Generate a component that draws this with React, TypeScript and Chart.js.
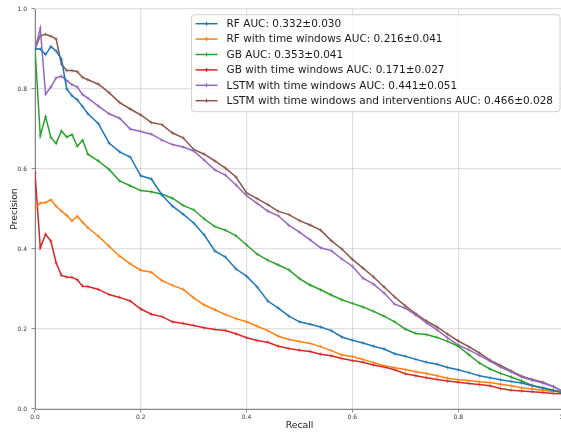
import React, { useEffect, useRef } from "react";
import { Chart, registerables } from "chart.js";

Chart.register(...registerables);

const recall = [0, 0.01, 0.02, 0.03, 0.04, 0.05, 0.06, 0.07, 0.08, 0.09, 0.1,
  0.12, 0.14, 0.16, 0.18, 0.2, 0.22, 0.24, 0.26, 0.28, 0.3,
  0.32, 0.34, 0.36, 0.38, 0.4, 0.42, 0.44, 0.46, 0.48, 0.5,
  0.52, 0.54, 0.56, 0.58, 0.6, 0.62, 0.64, 0.66, 0.68, 0.7,
  0.72, 0.74, 0.76, 0.78, 0.8, 0.82, 0.84, 0.86, 0.88, 0.9,
  0.92, 0.94, 0.96, 0.98, 1.0];

const rf = [0.9, 0.9, 0.886, 0.906, 0.895, 0.875, 0.8, 0.783, 0.773, 0.756, 0.738,
  0.713, 0.665, 0.643, 0.63, 0.583, 0.575, 0.535, 0.507, 0.487, 0.465,
  0.435, 0.395, 0.38, 0.35, 0.332, 0.305, 0.27, 0.252, 0.232, 0.218,
  0.212, 0.205, 0.196, 0.18, 0.172, 0.165, 0.157, 0.15, 0.138, 0.132,
  0.124, 0.117, 0.112, 0.104, 0.098, 0.091, 0.083, 0.078, 0.073, 0.069,
  0.065, 0.058, 0.052, 0.046, 0.04];

const rfTw = [0.5, 0.515, 0.516, 0.523, 0.507, 0.495, 0.484, 0.47, 0.482, 0.467, 0.453,
  0.432, 0.407, 0.382, 0.363, 0.347, 0.342, 0.321, 0.309, 0.299, 0.278,
  0.26, 0.248, 0.236, 0.226, 0.218, 0.207, 0.196, 0.182, 0.174, 0.169,
  0.164, 0.156, 0.146, 0.135, 0.131, 0.124, 0.116, 0.108, 0.103, 0.099,
  0.093, 0.089, 0.083, 0.077, 0.073, 0.071, 0.068, 0.066, 0.062, 0.058,
  0.053, 0.05, 0.047, 0.044, 0.042];

const gb = [0.9, 0.683, 0.731, 0.679, 0.664, 0.695, 0.68, 0.686, 0.657, 0.672, 0.637,
  0.62, 0.599, 0.57, 0.558, 0.546, 0.543, 0.537, 0.527, 0.509, 0.498,
  0.475, 0.456, 0.447, 0.433, 0.41, 0.387, 0.372, 0.36, 0.348, 0.326,
  0.31, 0.298, 0.285, 0.273, 0.264, 0.255, 0.244, 0.232, 0.218, 0.2,
  0.189, 0.186, 0.179, 0.169, 0.157, 0.136, 0.115, 0.1, 0.089, 0.08,
  0.07, 0.059, 0.053, 0.047, 0.042];

const gbTw = [0.59, 0.403, 0.437, 0.42, 0.365, 0.334, 0.33, 0.329, 0.323, 0.307, 0.306,
  0.299, 0.286, 0.279, 0.27, 0.25, 0.237, 0.231, 0.218, 0.214, 0.209,
  0.203, 0.199, 0.196, 0.188, 0.178, 0.171, 0.167, 0.157, 0.151, 0.147,
  0.144, 0.137, 0.133, 0.126, 0.121, 0.117, 0.11, 0.105, 0.098, 0.088,
  0.083, 0.078, 0.074, 0.07, 0.067, 0.064, 0.061, 0.058, 0.051, 0.047,
  0.045, 0.043, 0.041, 0.039, 0.038];

const lstmTw = [0.9, 0.952, 0.787, 0.805, 0.828, 0.832, 0.821, 0.811, 0.805, 0.786, 0.777,
  0.757, 0.738, 0.727, 0.7, 0.694, 0.687, 0.672, 0.661, 0.655, 0.645,
  0.622, 0.598, 0.585, 0.56, 0.533, 0.514, 0.495, 0.483, 0.459, 0.442,
  0.423, 0.403, 0.396, 0.375, 0.357, 0.327, 0.312, 0.29, 0.262, 0.252,
  0.235, 0.215, 0.198, 0.178, 0.16, 0.148, 0.134, 0.12, 0.105, 0.093,
  0.08, 0.072, 0.065, 0.056, 0.042];

const lstmTwInt = [0.9, 0.933, 0.937, 0.932, 0.925, 0.862, 0.846, 0.846, 0.843, 0.829, 0.823,
  0.812, 0.791, 0.766, 0.75, 0.735, 0.716, 0.711, 0.69, 0.678, 0.649,
  0.637, 0.62, 0.602, 0.58, 0.54, 0.526, 0.511, 0.494, 0.486, 0.471,
  0.46, 0.447, 0.421, 0.4, 0.374, 0.352, 0.33, 0.305, 0.28, 0.258,
  0.238, 0.22, 0.205, 0.187, 0.17, 0.156, 0.14, 0.122, 0.109, 0.095,
  0.082, 0.074, 0.067, 0.056, 0.042];

const seriesLabels = [
  "RF AUC: 0.332±0.030",
  "RF with time windows AUC: 0.216±0.041",
  "GB AUC: 0.353±0.041",
  "GB with time windows AUC: 0.171±0.027",
  "LSTM with time windows AUC: 0.441±0.051",
  "LSTM with time windows and interventions AUC: 0.466±0.028",
];
const seriesValues = [rf, rfTw, gb, gbTw, lstmTw, lstmTwInt];
const seriesColors = ["#1f77b4", "#ff7f0e", "#2ca02c", "#d62728", "#9467bd", "#8c564b"];

const xTitle = "Recall";
const yTitle = "Precision";
const FONT = '"DejaVu Sans", sans-serif';

const legendPlugin = {
  id: "mplLegend",
  afterDraw(chart: any) {
    const { ctx, chartArea } = chart;
    const fontSize = 10.5;
    ctx.save();
    ctx.font = `${fontSize}px ${FONT}`;
    const datasets = chart.data.datasets;
    let maxW = 0;
    datasets.forEach((ds: any) => {
      maxW = Math.max(maxW, ctx.measureText(ds.label).width);
    });
    const rowH = 15.4;
    const right = chartArea.right - 4;
    const top = chartArea.top + 5.7;
    const width = maxW + 35 + 7;
    const left = right - width;
    const height = 9 + rowH * (datasets.length - 1) + 11;
    const r = 3;
    ctx.beginPath();
    ctx.moveTo(left + r, top);
    ctx.lineTo(right - r, top);
    ctx.quadraticCurveTo(right, top, right, top + r);
    ctx.lineTo(right, top + height - r);
    ctx.quadraticCurveTo(right, top + height, right - r, top + height);
    ctx.lineTo(left + r, top + height);
    ctx.quadraticCurveTo(left, top + height, left, top + height - r);
    ctx.lineTo(left, top + r);
    ctx.quadraticCurveTo(left, top, left + r, top);
    ctx.closePath();
    ctx.fillStyle = "rgba(255,255,255,0.8)";
    ctx.fill();
    ctx.strokeStyle = "#d0d0d0";
    ctx.lineWidth = 1;
    ctx.stroke();
    datasets.forEach((ds: any, i: number) => {
      const y = top + 9 + i * rowH;
      ctx.strokeStyle = ds.borderColor;
      ctx.lineWidth = 1.5;
      ctx.beginPath();
      ctx.moveTo(left + 4, y);
      ctx.lineTo(left + 26, y);
      ctx.stroke();
      ctx.lineWidth = 1;
      ctx.beginPath();
      ctx.moveTo(left + 13, y);
      ctx.lineTo(left + 17, y);
      ctx.moveTo(left + 15, y - 2);
      ctx.lineTo(left + 15, y + 2);
      ctx.stroke();
      ctx.fillStyle = "#1a1a1a";
      ctx.textBaseline = "middle";
      ctx.textAlign = "left";
      ctx.fillText(ds.label, left + 35, y + 0.5);
    });
    ctx.restore();
  },
};

export default function App() {
  const canvasRef = useRef<HTMLCanvasElement | null>(null);

  useEffect(() => {
    document.body.style.margin = "0";
    const canvas = canvasRef.current;
    if (!canvas) return;
    const datasets = seriesValues.map((vals, i) => ({
      label: seriesLabels[i],
      data: recall.map((x, j) => ({ x, y: vals[j] })),
      borderColor: seriesColors[i],
      backgroundColor: seriesColors[i],
      borderWidth: 1.5,
      pointStyle: "cross" as const,
      pointRadius: 2,
      pointBorderWidth: 1,
      pointBorderColor: seriesColors[i] + "88",
      pointHoverRadius: 2,
      tension: 0,
      fill: false,
    }));
    const tickFont = { family: FONT, size: 6 };
    const titleFont = { family: FONT, size: 9.3 };
    const chart = new Chart(canvas, {
      type: "line",
      data: { datasets },
      options: {
        animation: false,
        responsive: false,
        maintainAspectRatio: false,
        events: [],
        layout: { padding: { left: 0, right: 6, top: 9, bottom: 0 } },
        plugins: { legend: { display: false }, tooltip: { enabled: false } },
        scales: {
          x: {
            type: "linear",
            min: 0,
            max: 1,
            ticks: {
              stepSize: 0.2,
              callback: (v: any) => Number(v).toFixed(1),
              font: tickFont,
              color: "#333",
              padding: 1,
              maxRotation: 0,
              autoSkip: false,
            },
            grid: { color: "rgba(0,0,0,0.12)", lineWidth: 1.2, tickLength: 3.5, tickColor: "#888", tickWidth: 1 },
            border: { color: "#888", width: 1 },
            title: { display: true, text: xTitle, font: titleFont, color: "#222", padding: { top: 0, bottom: 1 } },
            afterFit: (s: any) => {
              s.height = 23;
              s.paddingLeft = 0;
              s.paddingRight = 0;
            },
          },
          y: {
            type: "linear",
            min: 0,
            max: 1,
            ticks: {
              stepSize: 0.2,
              callback: (v: any) => Number(v).toFixed(1),
              font: tickFont,
              color: "#333",
              padding: 4.5,
            },
            grid: { color: "rgba(0,0,0,0.12)", lineWidth: 1.2, tickLength: 3.5, tickColor: "#888", tickWidth: 1 },
            border: { color: "#888", width: 1 },
            title: { display: true, text: yTitle, font: titleFont, color: "#222", padding: { top: 9, bottom: 0 } },
            afterFit: (s: any) => {
              s.width = 35;
              s.paddingTop = 0;
              s.paddingBottom = 0;
            },
          },
        },
      },
      plugins: [legendPlugin],
    });
    return () => chart.destroy();
  }, []);

  return (
    <div style={{ width: 561, height: 432, overflow: "hidden", position: "relative" }}>
      <canvas ref={canvasRef} width={570} height={432} style={{ display: "block", width: 570, height: 432 }} />
    </div>
  );
}
